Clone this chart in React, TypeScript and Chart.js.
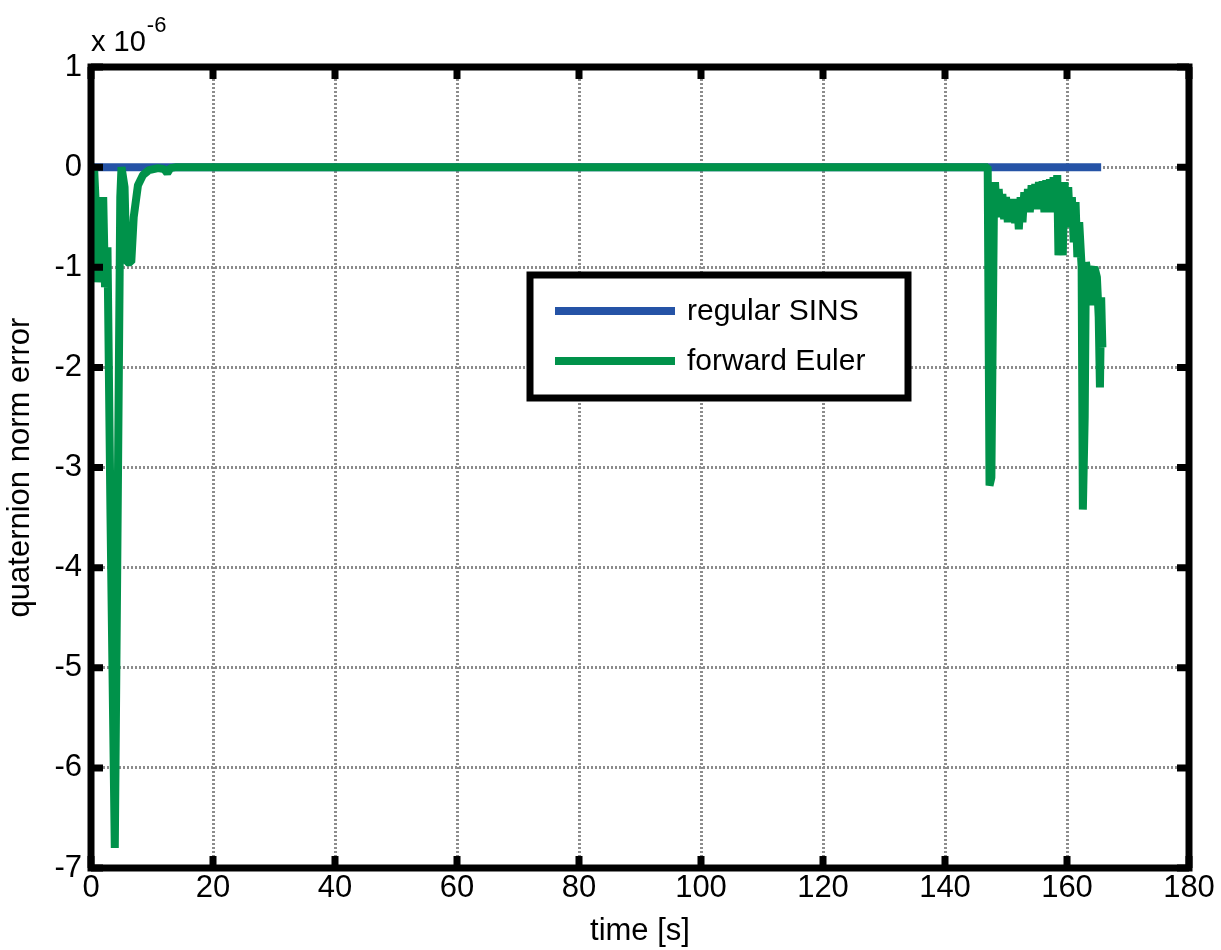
import React, { useEffect, useRef } from "react";
import { Chart, registerables } from "chart.js";

Chart.register(...registerables);

const xTickValues = [0, 20, 40, 60, 80, 100, 120, 140, 160, 180];
const yTickValues = [1, 0, -1, -2, -3, -4, -5, -6, -7];
const seriesNames = ["regular SINS", "forward Euler"];

// regular SINS: stays at zero for the whole run
const regularT = [0, 165.6];
const regularV = [0, 0];

// forward Euler quaternion norm error (x 1e-6)
const eulerT = [
  0, 0.5, 0.8, 1.0, 1.3, 1.6, 2.0, 2.3, 2.7, 3.2, 3.9, 4.3, 4.8, 5.0, 5.5, 5.8,
  6.6, 7.0, 7.7, 8.5, 9.5, 11.0, 12.0, 12.5, 13.0, 14.0, 60.0, 120.0, 147.0,
  147.3, 147.6, 148.0, 148.2, 148.5, 148.8, 149.1, 149.4, 149.7, 150.0, 150.3,
  150.6, 150.9, 151.2, 151.5, 151.8, 152.1, 152.4, 152.7, 153.0, 153.3, 153.6,
  153.9, 154.2, 154.5, 154.8, 155.1, 155.4, 155.7, 156.0, 156.3, 156.6, 156.9,
  157.2, 157.5, 157.8, 158.1, 158.4, 158.6, 159.0, 159.3, 159.6, 159.9, 160.2,
  160.5, 160.8, 161.1, 161.4, 161.7, 162.0, 162.4, 162.6, 162.9, 163.1, 163.5,
  163.8, 164.1, 164.5, 164.9, 165.2, 165.4, 165.6, 165.8,
];
const eulerV = [
  0, 0, -0.4, -1.15, -0.5, -1.1, -0.3, -1.2, -0.8, -3.5, -6.8, -4.0, -0.3, 0,
  -0.2, -0.95, -0.95, -0.5, -0.18, -0.08, -0.03, -0.01, -0.02, -0.06, -0.01, 0,
  0, 0, 0, -3.18, -3.1, -0.52, -0.15, -0.5, -0.22, -0.48, -0.27, -0.52, -0.3,
  -0.55, -0.33, -0.52, -0.32, -0.56, -0.32, -0.62, -0.3, -0.55, -0.25, -0.45,
  -0.22, -0.45, -0.18, -0.42, -0.17, -0.4, -0.15, -0.42, -0.14, -0.45, -0.13,
  -0.42, -0.12, -0.45, -0.1, -0.4, -0.08, -0.88, -0.6, -0.88, -0.15, -0.5,
  -0.2, -0.6, -0.3, -0.75, -0.35, -0.9, -0.55, -1.0, -3.42, -2.5, -0.95, -1.1,
  -1.38, -1.05, -1.0, -1.1, -1.5, -2.2, -1.3, -1.8,
];

const BLUE = "#2553a6";
const GREEN = "#00924a";
const FONT = "'Liberation Sans', Arial, Helvetica, sans-serif";

const framePlugin = {
  id: "matlabFrame",
  afterDraw(chart: any) {
    const { ctx, chartArea } = chart;
    const { left, right, top, bottom } = chartArea;
    const xs = chart.scales.x;
    const ys = chart.scales.y;
    ctx.save();
    // inward ticks
    ctx.strokeStyle = "#000";
    ctx.lineWidth = 7;
    ctx.lineCap = "butt";
    xTickValues.forEach((v) => {
      const px = xs.getPixelForValue(v);
      ctx.beginPath();
      ctx.moveTo(px, bottom);
      ctx.lineTo(px, bottom - 12);
      ctx.moveTo(px, top);
      ctx.lineTo(px, top + 12);
      ctx.stroke();
    });
    yTickValues.forEach((v) => {
      const py = ys.getPixelForValue(v);
      ctx.beginPath();
      ctx.moveTo(left, py);
      ctx.lineTo(left + 12, py);
      ctx.moveTo(right, py);
      ctx.lineTo(right - 12, py);
      ctx.stroke();
    });
    // frame
    ctx.lineWidth = 7;
    ctx.lineJoin = "miter";
    ctx.strokeRect(left, top, right - left, bottom - top);

    // exponent label
    ctx.fillStyle = "#000";
    ctx.textBaseline = "alphabetic";
    ctx.textAlign = "left";
    ctx.font = `29px ${FONT}`;
    ctx.fillText("x 10", left, 51);
    const w = ctx.measureText("x 10").width;
    ctx.font = `22px ${FONT}`;
    ctx.fillText("-6", left + w + 1, 32);

    // legend
    const bx = 530, by = 275, bw = 378, bh = 123;
    ctx.fillStyle = "#fff";
    ctx.fillRect(bx, by, bw, bh);
    ctx.lineWidth = 7;
    ctx.strokeStyle = "#000";
    ctx.strokeRect(bx, by, bw, bh);
    const rows = [
      { name: seriesNames[0], color: BLUE, y: 311 },
      { name: seriesNames[1], color: GREEN, y: 361 },
    ];
    rows.forEach((r) => {
      ctx.strokeStyle = r.color;
      ctx.lineWidth = 8;
      ctx.beginPath();
      ctx.moveTo(555, r.y);
      ctx.lineTo(675, r.y);
      ctx.stroke();
      ctx.fillStyle = "#000";
      ctx.font = `30px ${FONT}`;
      ctx.textBaseline = "middle";
      ctx.fillText(r.name, 687, r.y + 1);
    });
    ctx.restore();
  },
};

export default function App() {
  const ref = useRef<HTMLCanvasElement | null>(null);
  useEffect(() => {
    if (!ref.current) return;
    const regular = regularT.map((t, i) => ({ x: t, y: regularV[i] }));
    const euler = eulerT.map((t, i) => ({ x: t, y: eulerV[i] }));
    const chart = new Chart(ref.current, {
      type: "line",
      data: {
        datasets: [
          {
            label: seriesNames[0],
            data: regular,
            borderColor: BLUE,
            borderWidth: 8,
            pointRadius: 0,
            tension: 0,
            order: 2,
          },
          {
            label: seriesNames[1],
            data: euler,
            borderColor: GREEN,
            borderWidth: 8,
            borderJoinStyle: "bevel",
            pointRadius: 0,
            tension: 0,
            order: 1,
          },
        ],
      },
      options: {
        animation: false,
        responsive: false,
        maintainAspectRatio: false,
        devicePixelRatio: 1,
        layout: { padding: { top: 67, right: 32, left: 0, bottom: 0 } },
        plugins: {
          legend: { display: false },
          tooltip: { enabled: false },
        },
        scales: {
          x: {
            type: "linear",
            min: 0,
            max: 180,
            afterFit: (s: any) => {
              s.height = 82;
            },
            afterBuildTicks: (s: any) => {
              s.ticks = xTickValues.map((v) => ({ value: v }));
            },
            ticks: {
              color: "#000",
              font: { family: FONT, size: 31 },
              padding: 2,
              maxRotation: 0,
              autoSkip: false,
            },
            grid: {
              color: "#8c8c8c",
              lineWidth: 3,
              drawTicks: false,
            },
            border: { display: false, dash: [2, 2] },
            title: {
              display: true,
              text: "time [s]",
              color: "#000",
              font: { family: FONT, size: 31 },
              padding: { top: 0, bottom: 0 },
            },
          },
          y: {
            type: "linear",
            min: -7,
            max: 1,
            afterFit: (s: any) => {
              s.width = 91;
            },
            afterBuildTicks: (s: any) => {
              s.ticks = yTickValues.map((v) => ({ value: v }));
            },
            ticks: {
              color: "#000",
              font: { family: FONT, size: 31 },
              padding: 9,
              autoSkip: false,
            },
            grid: {
              color: "#8c8c8c",
              lineWidth: 3,
              drawTicks: false,
            },
            border: { display: false, dash: [2, 2] },
            title: {
              display: true,
              text: "quaternion norm error",
              color: "#000",
              font: { family: FONT, size: 31 },
              padding: { top: 2, bottom: 0 },
            },
          },
        },
      },
      plugins: [framePlugin],
    });
    return () => chart.destroy();
  }, []);
  return (
    <div style={{ position: "fixed", left: 0, top: 0, width: 1221, height: 950, background: "#fff" }}>
      <canvas ref={ref} width={1221} height={950} style={{ width: 1221, height: 950 }} />
    </div>
  );
}
